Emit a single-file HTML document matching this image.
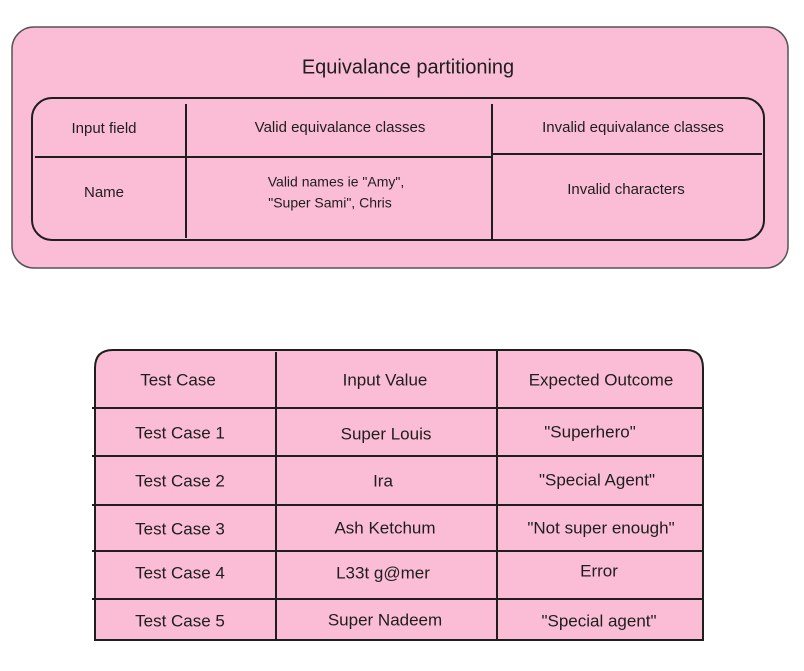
<!DOCTYPE html>
<html><head><style>body{margin:0;background:#fff}svg{display:block}text{font-family:"Liberation Sans",sans-serif;fill:#1e1e1e;text-anchor:middle;dominant-baseline:middle}</style></head>
<body>
<svg width="804" height="671" viewBox="0 0 804 671">
<rect x="12" y="27" width="776" height="241" rx="22" fill="#fbbcd6" stroke="#555" stroke-width="1.5"/>
<rect x="32" y="98" width="732" height="142" rx="20" fill="#fbbcd6" stroke="#1e1e1e" stroke-width="2"/>
<line x1="186" y1="104" x2="186" y2="238" stroke="#1e1e1e" stroke-width="2"/>
<line x1="492" y1="104" x2="492" y2="240" stroke="#1e1e1e" stroke-width="2"/>
<line x1="35" y1="157" x2="492" y2="157" stroke="#1e1e1e" stroke-width="2"/>
<line x1="492" y1="154" x2="762" y2="154" stroke="#1e1e1e" stroke-width="2"/>
<path d="M113 350 H686 Q703 350 703 368 V640 H95 V368 Q95 350 113 350 Z" fill="#fbbcd6" stroke="#1e1e1e" stroke-width="2"/>
<g stroke="#1e1e1e" stroke-width="2">
<line x1="276" y1="352" x2="276" y2="640"/>
<line x1="497" y1="350" x2="497" y2="640"/>
<line x1="92" y1="408" x2="703" y2="408"/>
<line x1="92" y1="456" x2="703" y2="456"/>
<line x1="92" y1="505" x2="703" y2="505"/>
<line x1="92" y1="551" x2="703" y2="551"/>
<line x1="92" y1="599" x2="703" y2="599"/>
</g>
<g transform="translate(0,2)">
<text x="408" y="66" font-size="20">Equivalance partitioning</text>
<g font-size="15">
<text x="104" y="127">Input field</text>
<text x="340" y="126">Valid equivalance classes</text>
<text x="633" y="126">Invalid equivalance classes</text>
<text x="104" y="191">Name</text>
<text x="336" y="181" font-size="14">Valid names ie "Amy",</text>
<text x="330" y="202" font-size="14">"Super Sami", Chris</text>
<text x="626" y="188">Invalid characters</text>
</g>
<g font-size="17">
<text x="178" y="379">Test Case</text><text x="385" y="379">Input Value</text><text x="601" y="379">Expected Outcome</text>
<text x="180" y="432">Test Case 1</text><text x="386" y="433">Super  Louis</text><text x="590" y="431">"Superhero"</text>
<text x="180" y="480">Test Case 2</text><text x="383" y="480">Ira</text><text x="597" y="479">"Special Agent"</text>
<text x="180" y="528">Test Case 3</text><text x="385" y="527">Ash Ketchum</text><text x="601" y="527">"Not super enough"</text>
<text x="180" y="572">Test Case 4</text><text x="383" y="572">L33t g@mer</text><text x="599" y="570">Error</text>
<text x="180" y="620">Test Case 5</text><text x="385" y="619">Super Nadeem</text><text x="599" y="620">"Special agent"</text>
</g>
</g>
</svg>
</body></html>
